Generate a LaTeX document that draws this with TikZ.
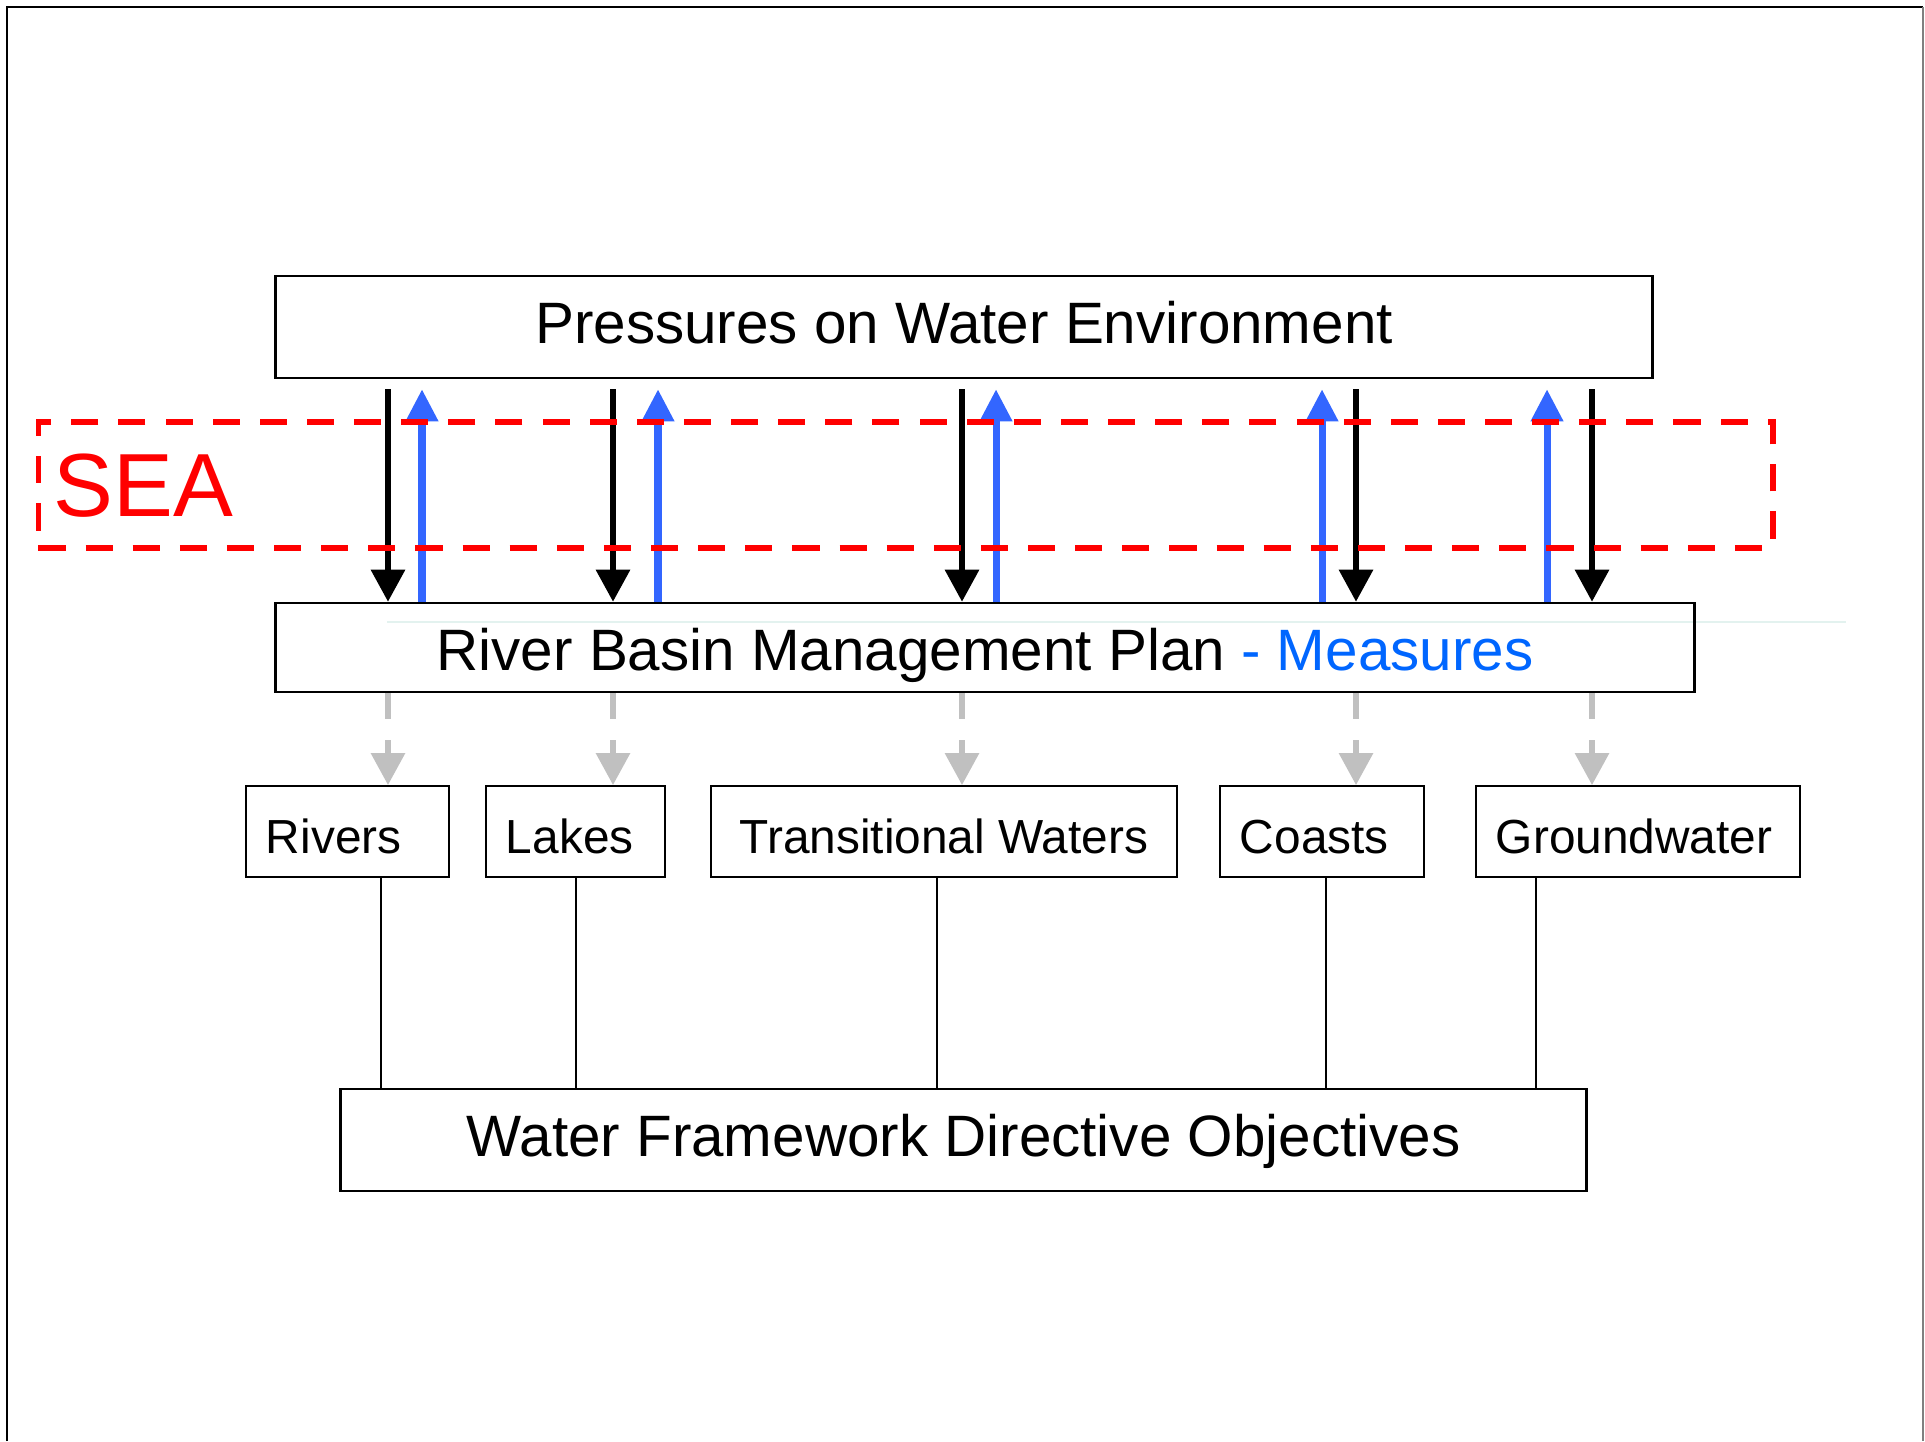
\documentclass[tikz,border=0pt]{standalone}
\usepackage{fontspec}
\setmainfont{Liberation Sans}
\usetikzlibrary{arrows.meta}
\definecolor{arrowblue}{HTML}{3366FF}
\definecolor{measureblue}{HTML}{0066FF}
\definecolor{seared}{HTML}{FF0000}
\definecolor{flowgrey}{HTML}{C0C0C0}
\definecolor{faintline}{HTML}{E3F2EF}
\tikzset{
	bigbox/.style={draw, line width=0.7pt, inner sep=0pt, minimum height=1.02cm, text height=0.45cm, text depth=0.13cm, font=\fontsize{16.6}{20}\selectfont},
	waterbox/.style={draw, line width=0.5pt, inner xsep=0.2cm, inner ysep=0pt, minimum height=0.91cm, text height=0.43cm, text depth=0cm, align=left, font=\fontsize{13.6}{16}\selectfont},
	seabox/.style={draw=seared, line width=1.7pt, dash pattern=on 7.7pt off 5.7pt, inner sep=0pt},
	pressarrow/.style={color=black, line width=1.7pt, -{Triangle[width=0.33cm,length=0.32cm]}},
	measarrow/.style={color=arrowblue, line width=2pt, -{Triangle[width=0.31cm,length=0.32cm]}},
	flowarrow/.style={color=flowgrey, line width=1.7pt, dash pattern=on 7.4pt off 6pt, -{Triangle[width=0.33cm,length=0.32cm]}},
	wfdline/.style={line width=0.5pt}
}

\begin{document}
\begin{tikzpicture}[x=0.01cm, y=-0.01cm]
			%%%%% START %%%%%
			\useasboundingbox (0,0) rectangle (1925,1441);
			
			\draw[line width=0.6pt] (7,1441) -- (7,7) -- (1923,7);
			\draw[line width=0.4pt, color=gray] (1923,7) -- (1923,1441);
			
			\draw[line width=0.4pt, color=faintline] (387,622) -- (1846,622);
			
			\node[bigbox, minimum width=13.76cm] (pres) at (964,327) {Pressures on Water Environment};
			\node[bigbox, minimum width=14.18cm, minimum height=0.89cm, text depth=0cm] (rbmp) at (985,647.5) {River Basin Management Plan {\color{measureblue}- Measures}};
			
			\node[waterbox, text width=1.63cm] (rivers) at (347.5,831.5) {Rivers};
			\node[waterbox, text width=1.39cm] (lakes) at (575.5,831.5) {Lakes};
			\node[waterbox, minimum width=4.66cm] (trans) at (944,831.5) {Transitional Waters};
			\node[waterbox, text width=1.64cm] (coasts) at (1322,831.5) {Coasts};
			\node[waterbox, text width=2.84cm] (ground) at (1638,831.5) {Groundwater};
			
			\node[bigbox, minimum width=12.45cm] (wfd) at (963.5,1140) {Water Framework Directive Objectives};
			
			\coordinate (k1) at (388,0);
			\coordinate (k2) at (613,0);
			\coordinate (k3) at (962,0);
			\coordinate (k4) at (1356,0);
			\coordinate (k5) at (1592,0);
			\coordinate (b1) at (422,0);
			\coordinate (b2) at (658,0);
			\coordinate (b3) at (996,0);
			\coordinate (b4) at (1322,0);
			\coordinate (b5) at (1547,0);
			\coordinate (l1) at (381,0);
			\coordinate (l2) at (576,0);
			\coordinate (l3) at (937,0);
			\coordinate (l4) at (1326,0);
			\coordinate (l5) at (1536,0);
			
			\draw[pressarrow, shorten <=0.1cm] (pres.south -| k1) -- (rbmp.north -| k1);
			\draw[pressarrow, shorten <=0.1cm] (pres.south -| k2) -- (rbmp.north -| k2);
			\draw[pressarrow, shorten <=0.1cm] (pres.south -| k3) -- (rbmp.north -| k3);
			\draw[pressarrow, shorten <=0.1cm] (pres.south -| k4) -- (rbmp.north -| k4);
			\draw[pressarrow, shorten <=0.1cm] (pres.south -| k5) -- (rbmp.north -| k5);
			
			\draw[measarrow, shorten >=0.1cm] (rbmp.north -| b1) -- (pres.south -| b1);
			\draw[measarrow, shorten >=0.1cm] (rbmp.north -| b2) -- (pres.south -| b2);
			\draw[measarrow, shorten >=0.1cm] (rbmp.north -| b3) -- (pres.south -| b3);
			\draw[measarrow, shorten >=0.1cm] (rbmp.north -| b4) -- (pres.south -| b4);
			\draw[measarrow, shorten >=0.1cm] (rbmp.north -| b5) -- (pres.south -| b5);
			
			\draw[flowarrow] (rbmp.south -| k1) -- (rivers.north -| k1);
			\draw[flowarrow] (rbmp.south -| k2) -- (lakes.north -| k2);
			\draw[flowarrow] (rbmp.south -| k3) -- (trans.north -| k3);
			\draw[flowarrow] (rbmp.south -| k4) -- (coasts.north -| k4);
			\draw[flowarrow] (rbmp.south -| k5) -- (ground.north -| k5);
			
			\draw[wfdline] (rivers.south -| l1) -- (wfd.north -| l1);
			\draw[wfdline] (lakes.south -| l2) -- (wfd.north -| l2);
			\draw[wfdline] (trans.south -| l3) -- (wfd.north -| l3);
			\draw[wfdline] (coasts.south -| l4) -- (wfd.north -| l4);
			\draw[wfdline] (ground.south -| l5) -- (wfd.north -| l5);
			
			\node[seabox, minimum width=17.33cm, minimum height=1.26cm] (sea) at (905.5,485) {};
			\node[anchor=base west, inner sep=0pt, text=seared, font=\fontsize{25.5}{30}\selectfont] (sealabel) at (53,516) {SEA};
			
			%%%%% END %%%%%
\end{tikzpicture}
\end{document}
